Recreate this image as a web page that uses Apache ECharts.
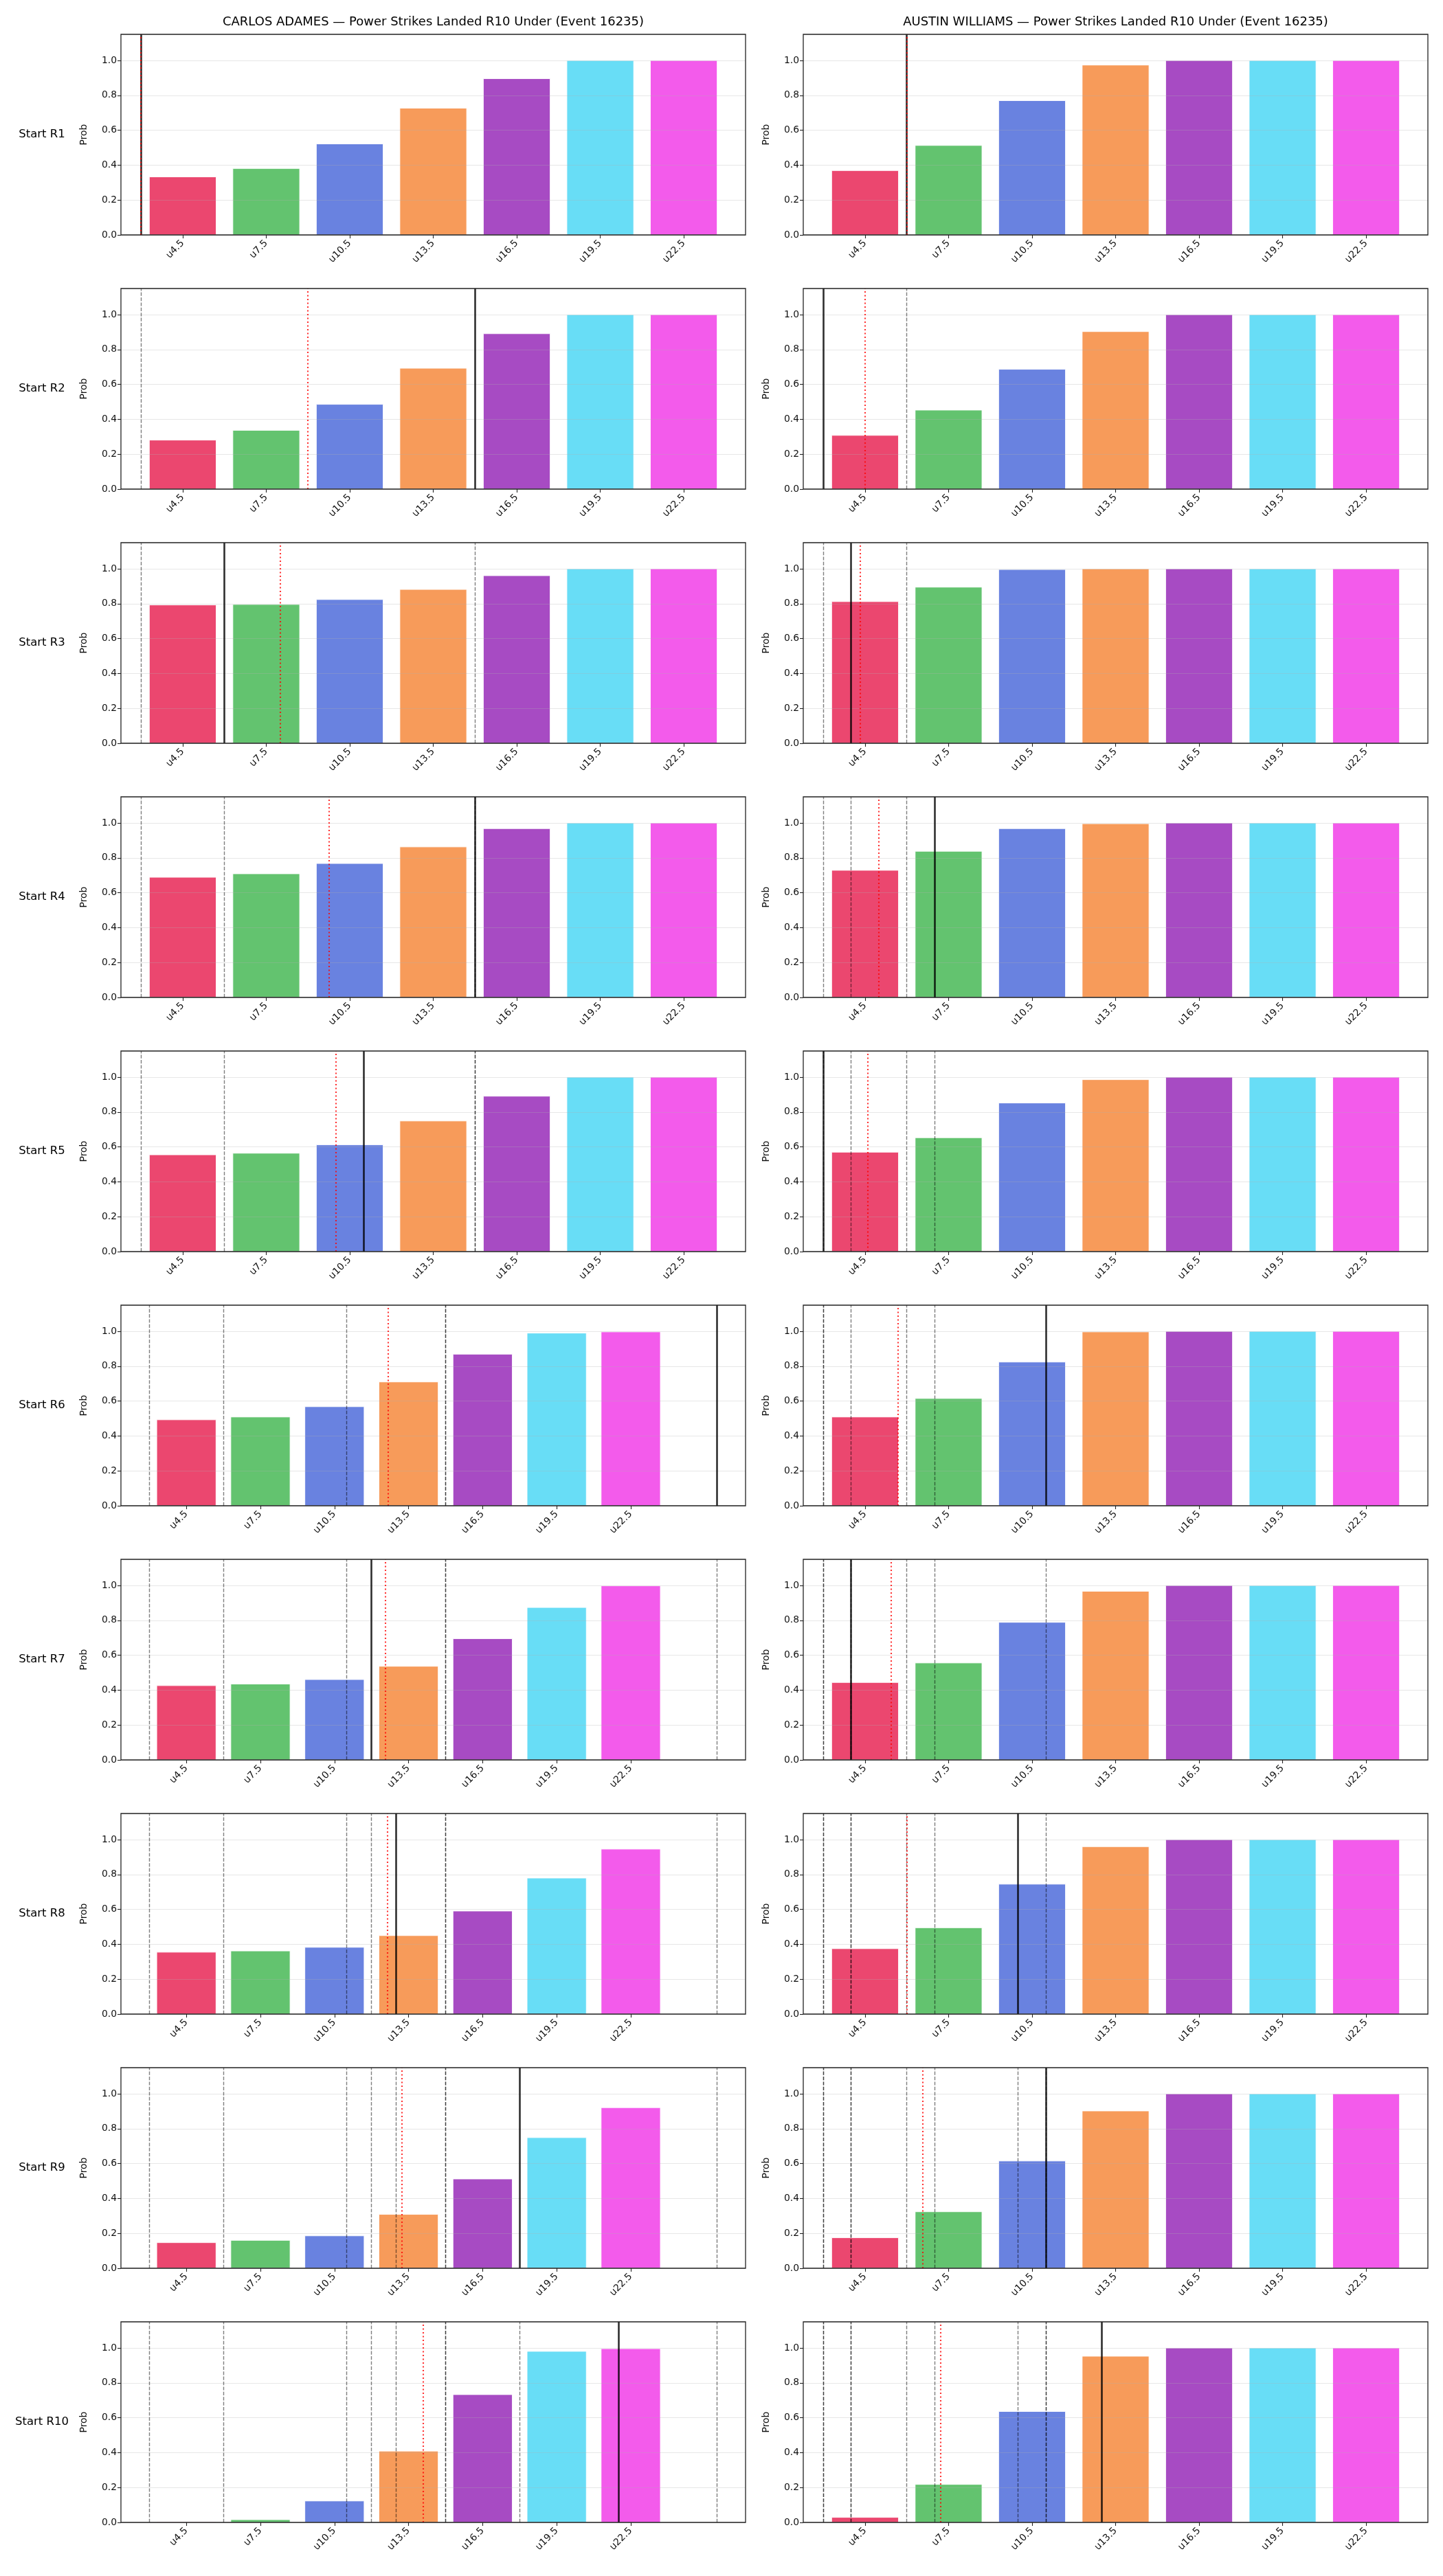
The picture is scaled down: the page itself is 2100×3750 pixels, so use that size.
<!DOCTYPE html>
<html><head><meta charset="utf-8">
<script src="https://cdn.jsdelivr.net/npm/echarts@6/dist/echarts.min.js"></script>
<style>html,body{margin:0;padding:0;background:#fff}#c{width:2100px;height:3750px}</style>
</head><body><div id="c"></div>
<script>
// ---------- data ----------
const thresholds = [4.5, 7.5, 10.5, 13.5, 16.5, 19.5, 22.5];
const tickLabels = ['u4.5', 'u7.5', 'u10.5', 'u13.5', 'u16.5', 'u19.5', 'u22.5'];
const roundLabels = ['Start R1','Start R2','Start R3','Start R4','Start R5','Start R6','Start R7','Start R8','Start R9','Start R10'];
const fighterTitles = [
  'CARLOS ADAMES \u2014 Power Strikes Landed R10 Under (Event 16235)',
  'AUSTIN WILLIAMS \u2014 Power Strikes Landed R10 Under (Event 16235)'
];
const yTicks = [0, 0.2, 0.4, 0.6, 0.8, 1.0];

// P(under) per round start, per threshold
const adamesProbs = [
  [0.333, 0.381, 0.522, 0.727, 0.896, 1.0, 1.0],
  [0.281, 0.337, 0.486, 0.693, 0.891, 1.0, 1.0],
  [0.793, 0.796, 0.824, 0.882, 0.961, 1.0, 1.0],
  [0.689, 0.709, 0.768, 0.863, 0.968, 1.0, 1.0],
  [0.555, 0.564, 0.612, 0.749, 0.891, 1.0, 1.0],
  [0.493, 0.509, 0.568, 0.710, 0.869, 0.990, 0.997],
  [0.426, 0.435, 0.461, 0.537, 0.695, 0.874, 0.998],
  [0.355, 0.362, 0.383, 0.450, 0.591, 0.780, 0.946],
  [0.147, 0.160, 0.186, 0.309, 0.512, 0.749, 0.921],
  [0.003, 0.016, 0.123, 0.409, 0.733, 0.981, 0.996]
];
const williamsProbs = [
  [0.369, 0.513, 0.770, 0.974, 1.0, 1.0, 1.0],
  [0.308, 0.453, 0.687, 0.903, 1.0, 1.0, 1.0],
  [0.812, 0.895, 0.996, 1.0, 1.0, 1.0, 1.0],
  [0.729, 0.838, 0.968, 0.996, 1.0, 1.0, 1.0],
  [0.570, 0.653, 0.852, 0.986, 1.0, 1.0, 1.0],
  [0.509, 0.615, 0.824, 0.997, 1.0, 1.0, 1.0],
  [0.444, 0.556, 0.789, 0.967, 1.0, 1.0, 1.0],
  [0.375, 0.495, 0.745, 0.960, 1.0, 1.0, 1.0],
  [0.175, 0.324, 0.615, 0.902, 1.0, 1.0, 1.0],
  [0.029, 0.218, 0.636, 0.953, 1.0, 1.0, 1.0]
];
// solid black line per round (strikes), red dotted line per round (strikes)
const adamesActual = [3, 15, 6, 15, 11, 26, 12, 13, 18, 22];
const adamesAvg    = [3, 9, 8, 9.75, 10, 12.67, 12.57, 12.63, 13.22, 14.1];
const williamsActual = [6, 3, 4, 7, 3, 11, 4, 10, 11, 13];
const williamsAvg    = [6, 4.5, 4.33, 5, 4.6, 5.67, 5.43, 6, 6.56, 7.2];

// ---------- styles / layout ----------
const barColors = [
  'rgba(230,25,75,0.8)', 'rgba(60,180,75,0.8)', 'rgba(67,99,216,0.8)', 'rgba(245,130,49,0.8)',
  'rgba(145,30,180,0.8)', 'rgba(66,212,244,0.8)', 'rgba(240,50,230,0.8)'
];
const FONT = "'DejaVu Sans', sans-serif";
const BAR_HALF = 1.2;
const colLeft = [176, 1169];
const gridW = 909, gridH = 292, top0 = 50, pitch = 370;

function xRange(lines) {
  let lo = thresholds[0] - BAR_HALF, hi = thresholds[thresholds.length - 1] + BAR_HALF;
  const m0 = (hi - lo) * 0.05;
  const dmin = lo - m0, dmax = hi + m0;
  if (lines.some(v => v < dmin || v > dmax)) {
    lo = Math.min(lo, ...lines); hi = Math.max(hi, ...lines);
    const m = (hi - lo) * 0.05;
    return [lo - m, hi + m];
  }
  return [dmin, dmax];
}

const grids = [], xAxes = [], yAxes = [], series = [], graphics = [];
const fighters = [
  {probs: adamesProbs, actual: adamesActual, avg: adamesAvg},
  {probs: williamsProbs, actual: williamsActual, avg: williamsAvg}
];

fighters.forEach((f, c) => {
  graphics.push({type: 'text', x: colLeft[c] + gridW / 2, y: 32,
    style: {text: fighterTitles[c], font: '18px ' + FONT, fill: '#000', textAlign: 'center', textVerticalAlign: 'middle'}});
  for (let r = 0; r < 10; r++) {
    const idx = grids.length;
    const top = top0 + pitch * r;
    grids.push({left: colLeft[c], top: top, width: gridW, height: gridH, show: true,
      borderColor: '#222', borderWidth: 1.3, backgroundColor: 'transparent', z: 10});
    if (c === 0) {
      graphics.push({type: 'text', x: 61, y: top + gridH / 2,
        style: {text: roundLabels[r], font: '16.5px ' + FONT, fill: '#000', textAlign: 'center', textVerticalAlign: 'middle'}});
    }
    const prev = f.actual.slice(0, r);
    const allLines = prev.concat([f.actual[r], f.avg[r]]);
    const [xmin, xmax] = xRange(allLines);
    xAxes.push({type: 'value', gridIndex: idx, min: xmin, max: xmax, z: 3,
      axisLine: {show: false},
      splitLine: {show: false},
      axisTick: {show: true, length: 5, lineStyle: {color: '#222', width: 1.1}, customValues: thresholds},
      axisLabel: {show: true, customValues: thresholds, rotate: 45, margin: 10, fontSize: 13.9, fontFamily: FONT, color: '#111',
        formatter: v => { const i = thresholds.findIndex(t => Math.abs(t - v) < 1e-6); return i >= 0 ? tickLabels[i] : ''; }}
    });
    yAxes.push({type: 'value', gridIndex: idx, min: 0, max: 1.15, interval: 0.2, z: 3,
      name: 'Prob', nameLocation: 'middle', nameRotate: 90, nameGap: 47,
      nameTextStyle: {fontSize: 13.9, fontFamily: FONT, color: '#111'},
      axisLine: {show: false},
      axisTick: {show: true, length: 5, lineStyle: {color: '#222', width: 1.1}, customValues: yTicks},
      axisLabel: {show: true, customValues: yTicks, fontSize: 13.9, fontFamily: FONT, color: '#111', margin: 6,
        formatter: v => v.toFixed(1)},
      splitLine: {show: true, lineStyle: {color: 'rgba(176,176,176,0.3)', width: 1.1}}
    });
    const mlData = [];
    prev.forEach(v => mlData.push({xAxis: v, lineStyle: {color: 'rgba(0,0,0,0.5)', width: 1.4, type: [5.2, 2.2]}}));
    mlData.push({xAxis: f.actual[r], lineStyle: {color: 'rgba(0,0,0,0.82)', width: 2.6, type: 'solid'}});
    mlData.push({xAxis: f.avg[r], lineStyle: {color: 'rgba(255,0,0,0.8)', width: 2.1, type: [2.1, 3.4]}});
    series.push({
      type: 'custom', xAxisIndex: idx, yAxisIndex: idx, z: 2,
      encode: {x: 0, y: 1},
      data: thresholds.map((t, i) => [t, f.probs[r][i], i]),
      renderItem: (params, api) => {
        const x = api.value(0), y = api.value(1), ci = api.value(2);
        const tl = api.coord([x - BAR_HALF, y]);
        const br = api.coord([x + BAR_HALF, 0]);
        return {type: 'rect', shape: {x: tl[0], y: tl[1], width: br[0] - tl[0], height: br[1] - tl[1]},
          style: {fill: barColors[ci], stroke: 'rgba(255,255,255,0.9)', lineWidth: 1}};
      },
      markLine: {silent: true, symbol: ['none', 'none'], label: {show: false}, animation: false, z: 5, data: mlData}
    });
  }
});

const chart = echarts.init(document.getElementById('c'), null, {renderer: 'canvas'});
chart.setOption({
  animation: false,
  backgroundColor: '#fff',
  grid: grids, xAxis: xAxes, yAxis: yAxes, series: series,
  graphic: graphics
});
</script>
</body></html>
